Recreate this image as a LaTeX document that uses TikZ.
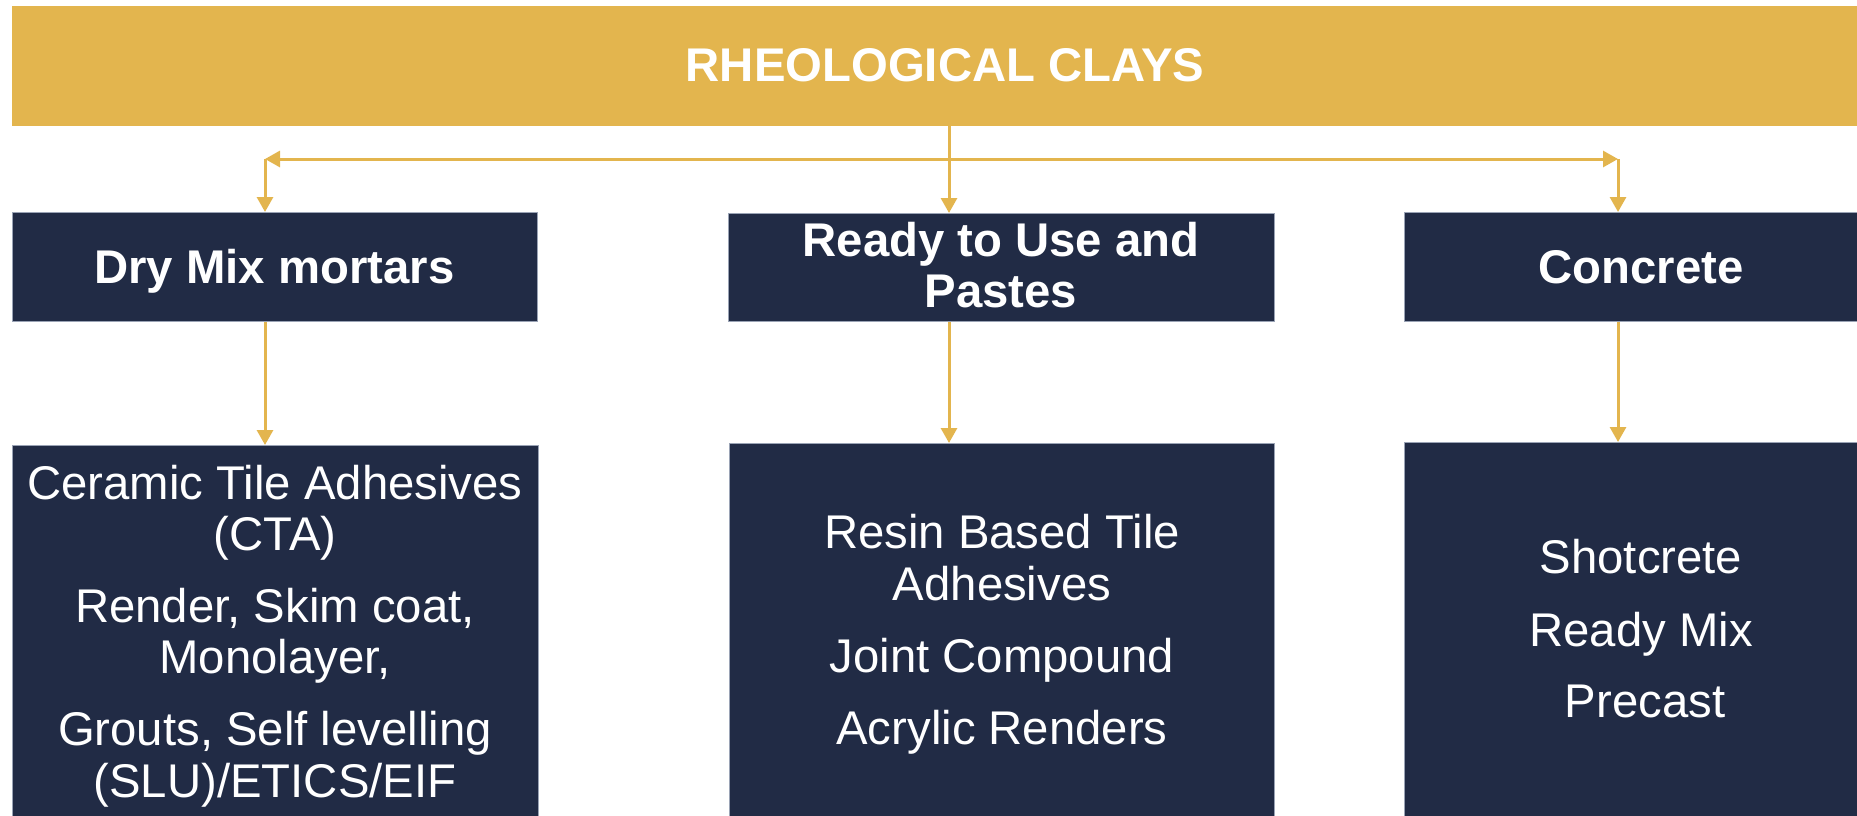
\documentclass[tikz,border=0pt]{standalone}
\usepackage{fontspec}
\setmainfont{Liberation Sans}
\usetikzlibrary{arrows.meta}
\definecolor{gold}{HTML}{E3B54E}
\definecolor{navy}{HTML}{212B45}
\definecolor{edgegray}{HTML}{9AA3B5}
\begin{document}
\begin{tikzpicture}[x=1pt,y=-1pt,
  navybox/.style={fill=navy,draw=edgegray,line width=0.8pt,inner sep=0pt,anchor=north west},
  goldbox/.style={fill=gold,draw=none,inner sep=0pt,anchor=north west},
  txt/.style={text=white,anchor=base,inner sep=0pt,font=\fontsize{47.3}{51.5}\selectfont},
  btxt/.style={text=white,anchor=base,inner sep=0pt,font=\fontsize{47.3}{51.5}\selectfont\bfseries},
  conn/.style={draw=gold,line width=3pt,-{Triangle[width=16pt,length=15pt]}},
]
\useasboundingbox (0,0) rectangle (1857,815);
% boxes
\node[goldbox,minimum width=1866pt,minimum height=120pt] (banner) at (12,6) {};
\node[navybox,minimum width=525pt,minimum height=109pt] (dry) at (12,212) {};
\node[navybox,minimum width=546pt,minimum height=108pt] (ready) at (728,213) {};
\node[navybox,minimum width=474pt,minimum height=109pt] (conc) at (1404,212) {};
\node[navybox,minimum width=526pt,minimum height=460pt] (cta) at (12,445) {};
\node[navybox,minimum width=545pt,minimum height=460pt] (resin) at (729,443) {};
\node[navybox,minimum width=474pt,minimum height=460pt] (shot) at (1404,442) {};
% labels
\node[btxt] (tTitle) at (945,81) {RHEOLOGICAL CLAYS};
\node[btxt] (tDry) at (274.5,283) {Dry Mix mortars};
\node[btxt] (tReady1) at (1001,256) {Ready to Use and};
\node[btxt] (tReady2) at (1001,307) {Pastes};
\node[btxt] (tConc) at (1641,283) {Concrete};
\node[txt] (l1) at (275,499) {Ceramic Tile Adhesives};
\node[txt] (l2) at (275,550) {(CTA)};
\node[txt] (l3) at (275,622) {Render, Skim coat,};
\node[txt] (l4) at (275,673) {Monolayer,};
\node[txt] (l5) at (275,745) {Grouts, Self levelling};
\node[txt] (l6) at (275,797) {(SLU)/ETICS/EIF};
\node[txt] (m1) at (1002,548) {Resin Based Tile};
\node[txt] (m2) at (1002,600) {Adhesives};
\node[txt] (m3) at (1002,672) {Joint Compound};
\node[txt] (m4) at (1002,744) {Acrylic Renders};
\node[txt] (r1) at (1641,573) {Shotcrete};
\node[txt] (r2) at (1641,646) {Ready Mix};
\node[txt] (r3) at (1645,717) {Precast};
% connectors
\coordinate (hub) at (949,159);
\coordinate (lc) at (265,159);
\coordinate (rc) at (1618,159);
\draw[conn] (hub) -- (lc);
\draw[conn] (hub) -- (rc);
\draw[conn] (hub |- banner.south) -- (hub |- ready.north);
\draw[conn] (lc) -- (lc |- dry.north);
\draw[conn] (rc) -- (rc |- conc.north);
\draw[conn] (lc |- dry.south) -- (lc |- cta.north);
\draw[conn] (hub |- ready.south) -- (hub |- resin.north);
\draw[conn] (rc |- conc.south) -- (rc |- shot.north);
\end{tikzpicture}
\end{document}
